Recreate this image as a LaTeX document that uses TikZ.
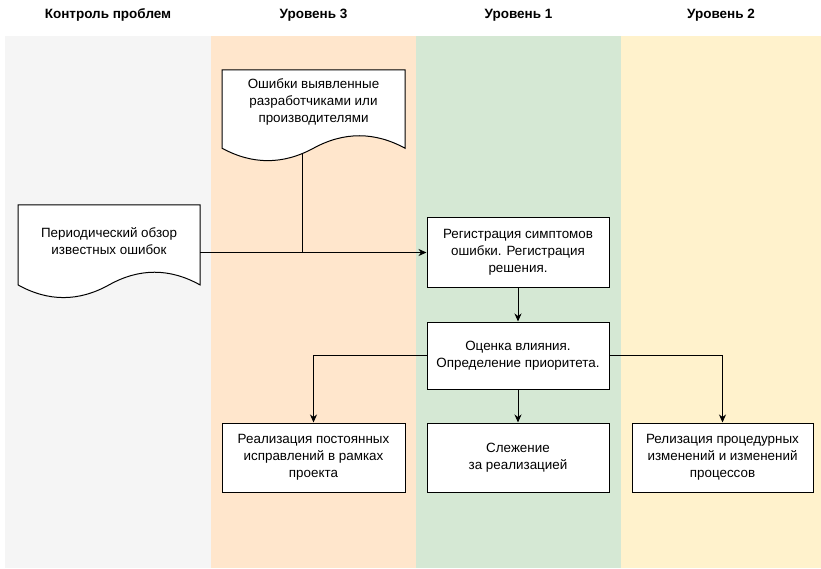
\documentclass[tikz,border=0pt]{standalone}
\usepackage{fontspec}
\setmainfont{Liberation Sans}
\usetikzlibrary{arrows.meta}
\usetikzlibrary{positioning}
\definecolor{lanegray}{HTML}{F5F5F5}
\definecolor{laneorange}{HTML}{FFE6CC}
\definecolor{lanegreen}{HTML}{D5E8D4}
\definecolor{laneyellow}{HTML}{FFF2CC}

\begin{document}
\begin{tikzpicture}[x=1pt, y=-1pt, every node/.style={align=center, font=\fontsize{13.4}{17}\selectfont},
    head/.style={font=\bfseries\fontsize{13.5}{15}\selectfont},
    stepbox/.style={draw, line width=1pt, fill=white, minimum width=182pt, minimum height=69pt, inner sep=0pt},
    doctext/.style={minimum width=182pt, inner sep=0pt},
    wire/.style={line width=1pt},
    link/.style={wire, -{Stealth[length=8pt, width=7pt, inset=2.5pt]}}]
    \useasboundingbox (0,0) rectangle (821,569);

    % Lanes
    \fill[lanegray] (5,36) rectangle (211,568);
    \fill[laneorange] (211,36) rectangle (416,568);
    \fill[lanegreen] (416,36) rectangle (621,568);
    \fill[laneyellow] (621,36) rectangle (821,568);
    \node[head] (h0) at (108,15) {Контроль проблем};
    \node[head] (h3) at (313.5,15) {Уровень 3};
    \node[head] (h1) at (518.5,15) {Уровень 1};
    \node[head] (h2) at (721,15) {Уровень 2};

    % Documents
    \filldraw[wire, fill=white] (222,70) -- (405,70) -- (405,148.2) .. controls (374.5,131.6) and (344,131.6) .. (313.5,148.2) .. controls (283,164.8) and (252.5,164.8) .. (222,148.2) -- cycle;
    \node[doctext] (errdoc) at (313.5,102) {Ошибки выявленные\\разработчиками или\\производителями};
    \coordinate (errport) at (302,153.7);

    \filldraw[wire, fill=white] (18,205) -- (200,205) -- (200,284.9) .. controls (169.7,268) and (139.3,268) .. (109,284.9) .. controls (78.7,301.8) and (48.3,301.8) .. (18,284.9) -- cycle;
    \node[doctext] (perdoc) at (109,241) {Периодический обзор\\известных ошибок};
    \coordinate (perport) at (200,252.5);

    % Steps
    \node[stepbox] (reg) at (518,252.5) {Регистрация симптомов\\ошибки. Регистрация\\решения.};
    \node[stepbox, minimum height=67pt] (est) at (518,355.5) {Оценка влияния.\\Определение приоритета.};
    \node[stepbox, minimum width=183pt] (impl) at (313.5,457.5) {Реализация постоянных\\исправлений в рамках\\проекта};
    \node[stepbox] (track) at (518,457.5) {Слежение\\за реализацией};
    \node[stepbox, minimum width=181pt] (proc) at (722.5,457.5) {Релизация процедурных\\изменений и изменений\\процессов};

    % Connectors
    \draw[link] (perport) -- (reg.west);
    \draw[wire] (errport) -- (errport |- perport);
    \draw[link] (reg) -- (est);
    \draw[link] (est) -- (track);
    \draw[link] (est.west) -| (impl.north);
    \draw[link] (est.east) -| (proc.north);
\end{tikzpicture}
\end{document}
